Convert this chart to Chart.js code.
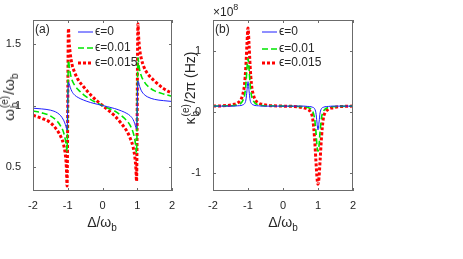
<!DOCTYPE html>
<html>
<head>
<meta charset="utf-8">
<script src="https://cdn.jsdelivr.net/npm/chart.js@4.4.1/dist/chart.umd.min.js"></script>
<style>
  body { margin: 0; background: #fff; width: 463px; height: 259px; overflow: hidden; position: relative;
         font-family: "Liberation Sans", Arial, sans-serif; color: #262626; }
  canvas { position: absolute; top: 0; }
  #chartA { left: 0; }
  #chartB { left: 180px; }
  .lbl { position: absolute; white-space: nowrap; font-size: 14px; line-height: 1; }
  .rot { transform: translate(-50%, -50%) rotate(-90deg); }
  .mid { transform: translate(-50%, -50%); }
  .ss { display: inline-block; vertical-align: -4px; font-size: 10px; line-height: 10px; margin: 0 1px; }
  .ss span { display: block; }
  sub { font-size: 10px; vertical-align: -4px; line-height: 0; }
  sup { font-size: 9px; vertical-align: 6px; line-height: 0; }
</style>
</head>
<body>
<canvas id="chartA" width="200" height="259"></canvas>
<canvas id="chartB" width="283" height="259"></canvas>

<div class="lbl rot" style="left:10px;top:97px;font-size:15px">ω<span class="ss"><span>(e)</span><span>b</span></span>/ω<sub>b</sub></div>
<div class="lbl rot" style="left:191px;top:88px">κ<span class="ss"><span>(e)</span><span>b</span></span>/2π (Hz)</div>
<div class="lbl mid" style="left:102px;top:222px">Δ/ω<sub>b</sub></div>
<div class="lbl mid" style="left:283px;top:222px">Δ/ω<sub>b</sub></div>
<div class="lbl" style="left:213px;top:6px;font-size:12px">×10<sup>8</sup></div>

<script>
// shared tick values
const xTicks = [-2, -1, 0, 1, 2];
const yTicksA = [0.5, 1, 1.5];
const yTicksB = [-1, 0, 1];
const seriesNames = ['ϵ=0', 'ϵ=0.01', 'ϵ=0.015'];

// panel (a): ω_b^(e)/ω_b vs Δ/ω_b
const deltaA = [-2, -1.75, -1.5, -1.3, -1.2, -1.12, -1.07, -1.04, -1.02, -0.98, -0.96, -0.93, -0.88, -0.8, -0.7, -0.55, -0.35, -0.15,
                0, 0.15, 0.35, 0.55, 0.7, 0.8, 0.88, 0.93, 0.96, 0.98, 1.02, 1.04, 1.07, 1.12, 1.2, 1.3, 1.5, 1.75, 2];
const blueA = [0.978, 0.972, 0.962, 0.94, 0.915, 0.88, 0.845, 0.815, 0.80, 1.19, 1.18, 1.15, 1.115, 1.085, 1.065, 1.045, 1.025, 1.01,
               1.0, 0.99, 0.975, 0.955, 0.935, 0.915, 0.885, 0.85, 0.82, 0.81, 1.20, 1.19, 1.155, 1.12, 1.09, 1.07, 1.05, 1.04, 1.033];
const greenA = [0.955, 0.94, 0.915, 0.87, 0.83, 0.78, 0.72, 0.67, 0.62, 1.37, 1.33, 1.27, 1.21, 1.165, 1.13, 1.09, 1.05, 1.02,
                1.0, 0.98, 0.955, 0.915, 0.875, 0.835, 0.78, 0.72, 0.66, 0.61, 1.39, 1.35, 1.29, 1.24, 1.195, 1.16, 1.12, 1.095, 1.075];
const redA = [0.92, 0.895, 0.86, 0.795, 0.745, 0.68, 0.6, 0.5, 0.34, 1.63, 1.52, 1.43, 1.34, 1.27, 1.21, 1.155, 1.09, 1.035,
              1.0, 0.965, 0.915, 0.85, 0.79, 0.73, 0.66, 0.58, 0.49, 0.38, 1.67, 1.56, 1.46, 1.38, 1.31, 1.26, 1.2, 1.14, 1.10];

// panel (b): κ_b^(e)/2π in units of 1e8 Hz
const deltaB = [-2, -1.6, -1.4, -1.3, -1.2, -1.15, -1.1, -1.06, -1.03, -1, -0.97, -0.94, -0.9, -0.85, -0.8, -0.7, -0.6, -0.4,
                0, 0.4, 0.6, 0.7, 0.8, 0.85, 0.9, 0.94, 0.97, 1, 1.03, 1.06, 1.1, 1.15, 1.2, 1.3, 1.4, 1.6, 2];
const blueB = [0.09, 0.09, 0.09, 0.095, 0.10, 0.11, 0.13, 0.19, 0.34, 0.49, 0.34, 0.19, 0.13, 0.11, 0.10, 0.095, 0.09, 0.09,
               0.09, 0.09, 0.09, 0.085, 0.08, 0.07, 0.05, -0.02, -0.17, -0.30, -0.17, -0.02, 0.05, 0.07, 0.08, 0.085, 0.09, 0.09, 0.09];
const greenB = [0.09, 0.095, 0.10, 0.11, 0.14, 0.18, 0.26, 0.45, 0.70, 0.87, 0.70, 0.45, 0.26, 0.18, 0.14, 0.11, 0.10, 0.095,
                0.09, 0.085, 0.08, 0.07, 0.04, 0.0, -0.10, -0.32, -0.55, -0.65, -0.55, -0.32, -0.10, 0.0, 0.04, 0.07, 0.08, 0.085, 0.09];
const redB = [0.09, 0.10, 0.12, 0.14, 0.20, 0.28, 0.44, 0.75, 1.10, 1.37, 1.10, 0.75, 0.44, 0.28, 0.20, 0.14, 0.12, 0.10,
              0.09, 0.08, 0.06, 0.04, -0.02, -0.12, -0.42, -0.80, -1.07, -1.19, -1.07, -0.80, -0.42, -0.12, -0.02, 0.04, 0.06, 0.08, 0.09];

const tickFont = { family: '"Liberation Sans", Arial, sans-serif', size: 11 };
const axisColor = '#6b6b6b';

// box with inward ticks on all four sides, legend inside, panel letter
const boxPlugin = {
    id: 'box',
    afterDraw(chart, args, opts) {
        const { ctx, chartArea: a, scales: { x, y } } = chart;
        ctx.save();
        ctx.strokeStyle = axisColor;
        ctx.lineWidth = 1;
        ctx.strokeRect(Math.round(a.left) + 0.5, Math.round(a.top) + 0.5,
                       Math.round(a.right - a.left) - 1, Math.round(a.bottom - a.top) - 1);
        ctx.beginPath();
        x.ticks.forEach(t => {
            const px = Math.round(x.getPixelForValue(t.value)) + 0.5;
            ctx.moveTo(px, a.bottom); ctx.lineTo(px, a.bottom - 3);
            ctx.moveTo(px, a.top); ctx.lineTo(px, a.top + 3);
        });
        y.ticks.forEach(t => {
            const py = Math.round(y.getPixelForValue(t.value)) + 0.5;
            ctx.moveTo(a.left, py); ctx.lineTo(a.left + 3, py);
            ctx.moveTo(a.right, py); ctx.lineTo(a.right - 3, py);
        });
        ctx.stroke();

        ctx.font = '12px "Liberation Sans", "DejaVu Sans", sans-serif';
        ctx.fillStyle = '#262626';
        ctx.textBaseline = 'middle';
        ctx.fillText(opts.letter, a.left + 2, a.top + 10);

        chart.data.datasets.forEach((ds, i) => {
            const ly = opts.legendY[i];
            ctx.save();
            ctx.strokeStyle = ds.borderColor;
            ctx.lineWidth = ds.borderWidth;
            ctx.setLineDash(ds.borderDash || []);
            ctx.beginPath();
            ctx.moveTo(opts.legendX, ly);
            ctx.lineTo(opts.legendX + 15, ly);
            ctx.stroke();
            ctx.restore();
            ctx.fillText(ds.label, opts.legendX + 17, ly);
        });
        ctx.restore();
    }
};

function makeSets(xs, b, g, r) {
    const pts = ys => xs.map((v, i) => ({ x: v, y: ys[i] }));
    return [
        { label: seriesNames[0], data: pts(b), borderColor: '#1f1fff', borderWidth: 1, pointRadius: 0,
          cubicInterpolationMode: 'monotone' },
        { label: seriesNames[1], data: pts(g), borderColor: '#00e600', borderWidth: 1.6, borderDash: [6, 3],
          pointRadius: 0, cubicInterpolationMode: 'monotone' },
        { label: seriesNames[2], data: pts(r), borderColor: '#ff0000', borderWidth: 3, borderDash: [3, 2],
          borderCapStyle: 'butt', pointRadius: 0, cubicInterpolationMode: 'monotone' }
    ];
}

function makeChart(id, sets, yMin, yMax, yTicks, padRight, plug) {
    return new Chart(document.getElementById(id), {
        type: 'line',
        data: { datasets: sets },
        plugins: [boxPlugin],
        options: {
            responsive: false,
            animation: false,
            layout: { padding: { left: 0, right: padRight, top: 20, bottom: 38 } },
            plugins: { legend: { display: false }, tooltip: { enabled: false }, box: plug },
            scales: {
                x: {
                    type: 'linear', min: -2, max: 2,
                    afterBuildTicks: s => { s.ticks = xTicks.map(v => ({ value: v })); },
                    afterFit: s => { s.height = 30; },
                    grid: { display: false }, border: { display: false },
                    ticks: { font: tickFont, color: '#262626', padding: 0, maxRotation: 0,
                             callback: v => String(v) }
                },
                y: {
                    min: yMin, max: yMax,
                    afterBuildTicks: s => { s.ticks = yTicks.map(v => ({ value: v })); },
                    afterFit: s => { s.width = 33; },
                    grid: { display: false }, border: { display: false },
                    ticks: { font: tickFont, color: '#262626', padding: 4, callback: v => String(v) }
                }
            }
        }
    });
}

makeChart('chartA', makeSets(deltaA, blueA, greenA, redA), 0.3, 1.7, yTicksA, 28,
          { letter: '(a)', legendX: 78, legendY: [32, 48, 63] });
makeChart('chartB', makeSets(deltaB, blueB, greenB, redB), -1.3, 1.5, yTicksB, 110,
          { letter: '(b)', legendX: 82, legendY: [32, 49, 63] });
</script>
</body>
</html>
